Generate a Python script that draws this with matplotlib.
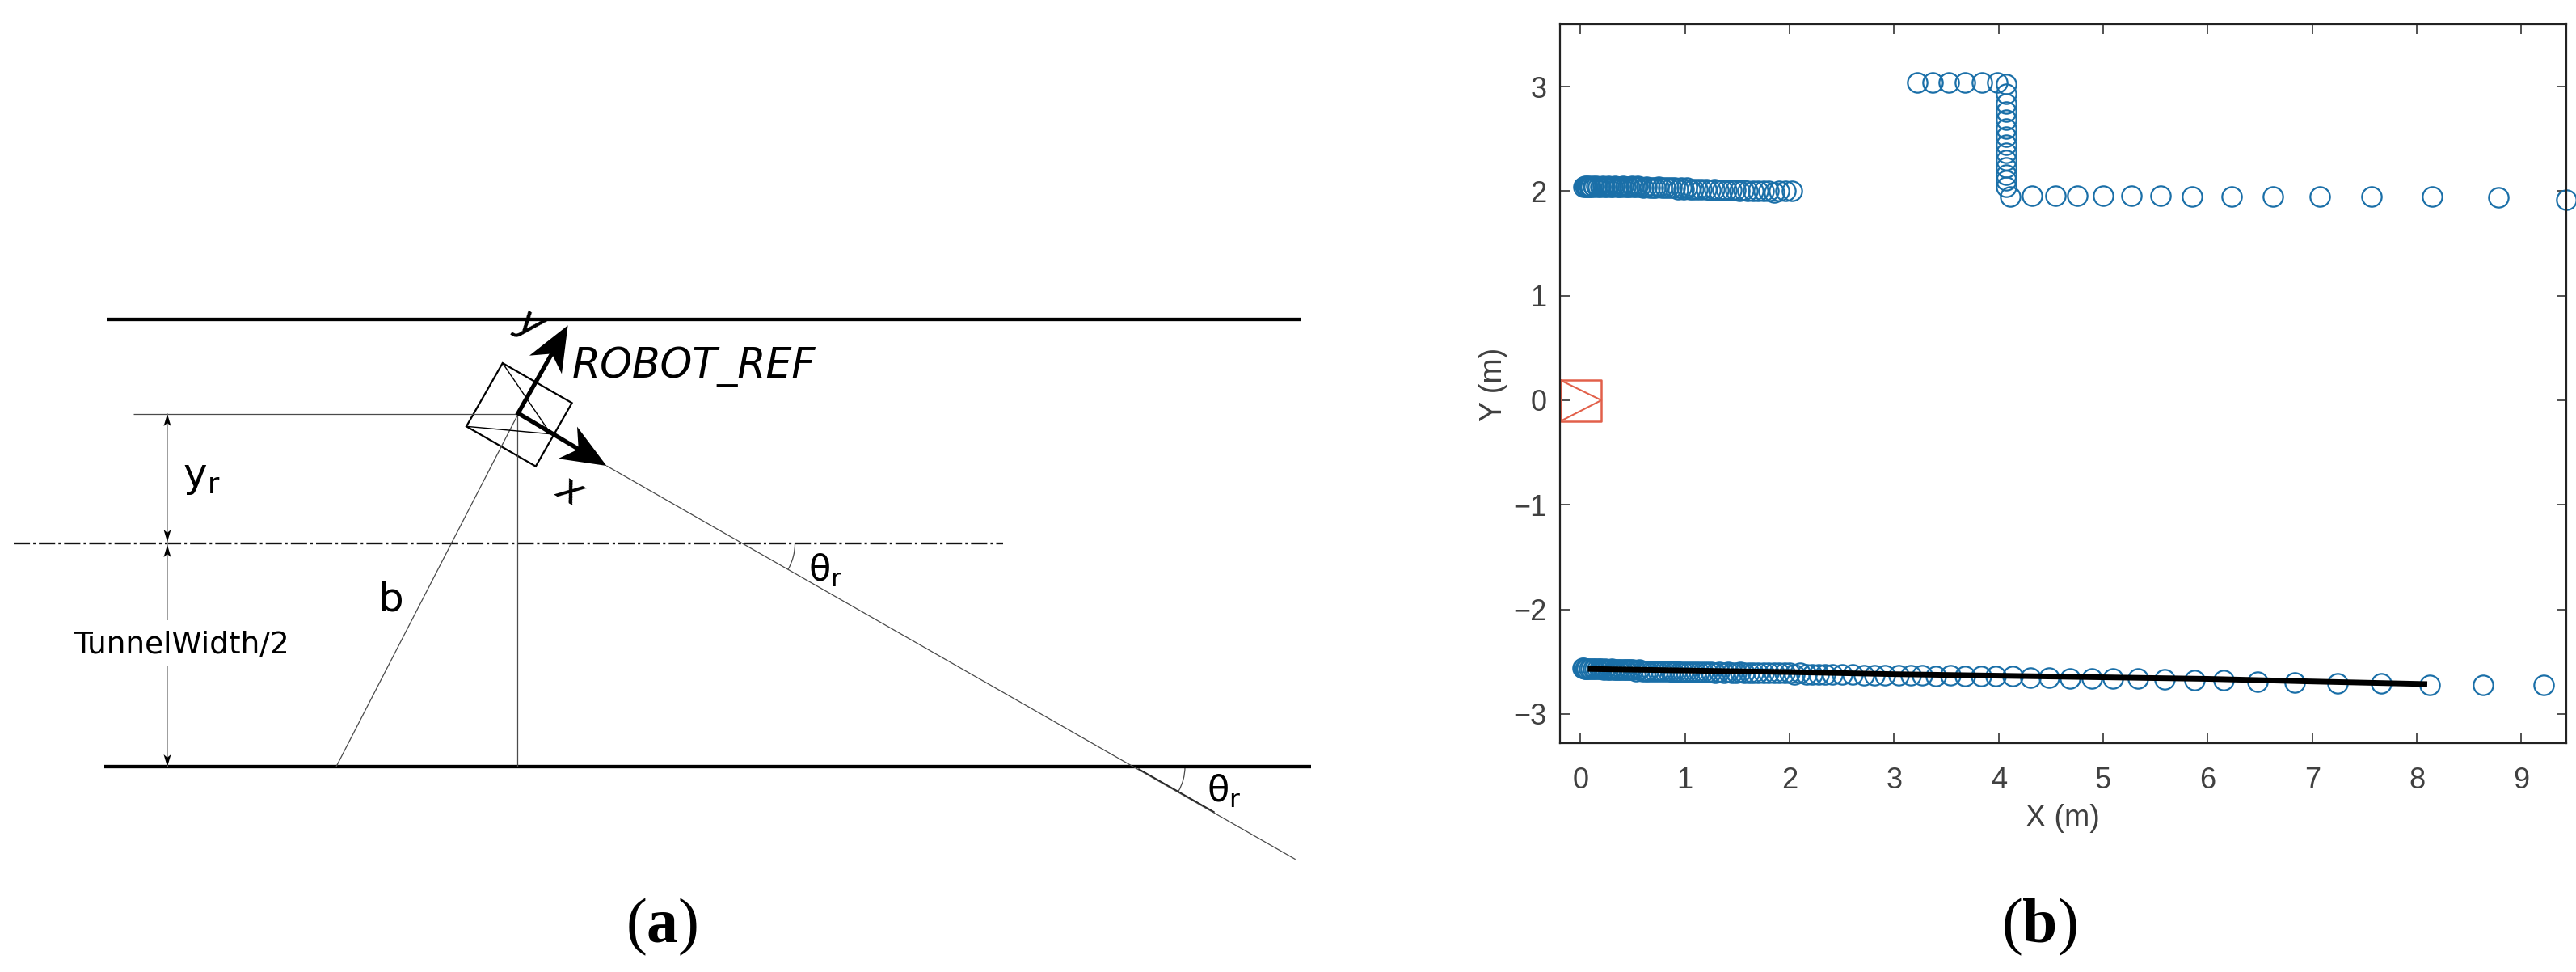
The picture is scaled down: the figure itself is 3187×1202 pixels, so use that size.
""" Tunnel geometry sketch (a) and laser scan with fitted wall (b) """

import numpy as np
import matplotlib
matplotlib.use("Agg")
import matplotlib.pyplot as plt
from matplotlib.patches import Arc, Polygon, Rectangle

W, H = 3187, 1202

plt.rcParams['font.family'] = ['DejaVu Sans']
plt.rcParams['mathtext.fontset'] = 'custom'
plt.rcParams['mathtext.rm'] = 'DejaVu Sans'
plt.rcParams['mathtext.bf'] = 'Liberation Serif:bold'

# panel (b): scan points, in metres
upper_left_x = [0.03, 0.04, 0.05, 0.06, 0.07, 0.08, 0.09, 0.10, 0.12, 0.13, 0.15, 0.17, 0.19, 0.21,
                0.23, 0.25, 0.27, 0.29, 0.31, 0.33, 0.35, 0.37, 0.39, 0.41, 0.43, 0.45, 0.47, 0.49,
                0.51, 0.53, 0.55, 0.57, 0.60, 0.63, 0.66, 0.69, 0.72, 0.75, 0.78, 0.81, 0.84, 0.87,
                0.90, 0.93, 0.96, 0.99, 1.02, 1.05, 1.08, 1.12, 1.16, 1.20, 1.24, 1.28, 1.32, 1.36,
                1.40, 1.44, 1.48, 1.52, 1.56, 1.60, 1.65, 1.70, 1.75, 1.80, 1.85, 1.90, 1.96, 2.02]
upper_left_y = [2.04, 2.05, 2.04, 2.05, 2.04, 2.05, 2.04, 2.04, 2.05, 2.04, 2.05, 2.04, 2.04, 2.05,
                2.04, 2.04, 2.05, 2.04, 2.04, 2.05, 2.04, 2.04, 2.04, 2.05, 2.04, 2.04, 2.04, 2.05,
                2.04, 2.04, 2.05, 2.04, 2.03, 2.04, 2.03, 2.03, 2.03, 2.04, 2.03, 2.03, 2.03, 2.03,
                2.03, 2.02, 2.03, 2.02, 2.03, 2.02, 2.02, 2.02, 2.02, 2.02, 2.01, 2.02, 2.01, 2.01,
                2.01, 2.01, 2.01, 2.00, 2.01, 2.00, 2.00, 2.00, 2.00, 2.00, 1.99, 2.00, 2.00, 2.00]

step_x = [3.22, 3.37, 3.52, 3.68, 3.84, 3.99, 4.07, 4.07, 4.07, 4.07, 4.07, 4.07, 4.07, 4.07, 4.07,
          4.07, 4.07, 4.07, 4.07, 4.07, 4.11, 4.32, 4.54, 4.75, 5.00, 5.27, 5.55, 5.85, 6.23, 6.62,
          7.07, 7.57, 8.15, 8.78, 9.43]
step_y = [3.04, 3.04, 3.04, 3.04, 3.04, 3.04, 3.02, 2.93, 2.84, 2.76, 2.68, 2.60, 2.52, 2.44, 2.37,
          2.30, 2.23, 2.16, 2.10, 2.04, 1.95, 1.96, 1.96, 1.96, 1.96, 1.96, 1.96, 1.95, 1.95, 1.95,
          1.95, 1.95, 1.95, 1.94, 1.92]

lower_x = [0.02, 0.03, 0.04, 0.05, 0.06, 0.08, 0.10, 0.12, 0.14, 0.16, 0.18, 0.20, 0.22, 0.24, 0.26,
           0.28, 0.30, 0.32, 0.34, 0.36, 0.38, 0.40, 0.42, 0.44, 0.46, 0.48, 0.50, 0.53, 0.56, 0.59,
           0.62, 0.65, 0.68, 0.71, 0.74, 0.77, 0.80, 0.83, 0.86, 0.89, 0.92, 0.95, 0.98, 1.01, 1.04,
           1.07, 1.10, 1.13, 1.17, 1.21, 1.25, 1.29, 1.33, 1.37, 1.41, 1.45, 1.49, 1.53, 1.57, 1.61,
           1.65, 1.70, 1.75, 1.80, 1.85, 1.90, 1.95, 2.00, 2.05, 2.10, 2.16, 2.22, 2.28, 2.34, 2.41,
           2.50, 2.60, 2.71, 2.81, 2.91, 3.04, 3.16, 3.27, 3.40, 3.54, 3.68, 3.83, 3.97, 4.13, 4.30,
           4.48, 4.68, 4.89, 5.09, 5.33, 5.59, 5.87, 6.15, 6.48, 6.83, 7.24, 7.66, 8.12, 8.63, 9.21]
lower_y = [-2.56, -2.56, -2.57, -2.57, -2.57, -2.57, -2.57, -2.57, -2.57, -2.57, -2.57, -2.57, -2.58, -2.57, -2.58,
           -2.58, -2.57, -2.58, -2.58, -2.58, -2.58, -2.58, -2.58, -2.58, -2.58, -2.58, -2.58, -2.59, -2.58, -2.59,
           -2.59, -2.59, -2.59, -2.59, -2.59, -2.59, -2.59, -2.59, -2.59, -2.60, -2.59, -2.60, -2.60, -2.60, -2.60,
           -2.60, -2.60, -2.60, -2.60, -2.60, -2.60, -2.61, -2.60, -2.61, -2.60, -2.61, -2.61, -2.60, -2.61, -2.61,
           -2.61, -2.61, -2.61, -2.61, -2.61, -2.61, -2.61, -2.61, -2.62, -2.61, -2.62, -2.62, -2.62, -2.62, -2.62,
           -2.62, -2.62, -2.63, -2.63, -2.63, -2.63, -2.63, -2.63, -2.64, -2.63, -2.64, -2.64, -2.64, -2.64, -2.65,
           -2.65, -2.66, -2.66, -2.66, -2.66, -2.67, -2.68, -2.68, -2.69, -2.70, -2.71, -2.71, -2.72, -2.72, -2.72]

wall_x = [0.07, 1.0, 2.0, 3.0, 4.0, 5.0, 6.0, 7.0, 8.1]
wall_y = [-2.57, -2.585, -2.60, -2.62, -2.635, -2.65, -2.665, -2.69, -2.715]

robot_box_x = [-0.19, 0.20, 0.20, -0.19, -0.19]
robot_box_y = [0.19, 0.19, -0.20, -0.20, 0.19]
robot_nose_x = [-0.19, 0.20, -0.19]
robot_nose_y = [0.19, 0.0, -0.20]

x_ticks = [0, 1, 2, 3, 4, 5, 6, 7, 8, 9]
y_ticks = [-3, -2, -1, 0, 1, 2, 3]

# panel (a): sketch points, in image pixels
robot_corners = [(621.8, 449), (707.6, 498.3), (662.8, 576.7), (577, 527.3)]
robot_v = [(621.8, 449), (681.5, 536.7), (577, 527.3)]
robot_origin = (641, 511)
y_tip = (702.6, 402.3)
x_tip = (750.4, 576)
b_foot = (416, 948)
ray_end = (1602.7, 1062.7)
mid_cross = (918.5, 672)
wall_cross = (1404, 948)


def stealth(ax, tip, start, length, half, notch=0.72, color='k'):
    """ filled arrow head at tip, pointing away from start """
    tip = np.array(tip, float)
    d = tip - np.array(start, float)
    d /= np.hypot(*d)
    n = np.array([-d[1], d[0]])
    pts = [tip, tip - length*d + half*n, tip - notch*length*d, tip - length*d - half*n]
    ax.add_patch(Polygon(pts, closed=True, fc=color, ec='none', zorder=5))


fig = plt.figure(figsize=(W/100, H/100), dpi=100)

# ---- panel (a) ----
ax = fig.add_axes([0, 0, 1650/W, 1])
ax.set_xlim(0, 1650)
ax.set_ylim(H, 0)
ax.axis('off')

thin = dict(color='#4a4a4a', lw=0.9, solid_capstyle='butt')
ax.plot([132, 1610], [395, 395], color='k', lw=3.1, solid_capstyle='butt')
ax.plot([129, 1622], [948, 948], color='k', lw=3.1, solid_capstyle='butt')
ax.plot([17, 1241], [672, 672], color='#111111', lw=1.7, linestyle=(0, (8.5, 1.7, 1.3, 1.7)))

ax.plot([165, robot_origin[0]], [512, 512], **thin)
ax.plot([640, 640], [512, 948], **thin)
ax.plot([b_foot[0], robot_origin[0]], [b_foot[1], 512], **thin)
ax.plot([x_tip[0], ray_end[0]], [x_tip[1], ray_end[1]], **thin)
ax.plot([wall_cross[0]+5, wall_cross[0]+98], [wall_cross[1]+3, wall_cross[1]+56], color='#222222', lw=1.1)

# dimension arrows
ax.plot([207, 207], [512, 948], color='#8c8c8c', lw=1.2)
for tip, start in [((207, 512), (207, 600)), ((207, 670), (207, 600)),
                   ((207, 674), (207, 800)), ((207, 948), (207, 800))]:
    stealth(ax, tip, start, 15, 4.5, notch=0.75)
ax.add_patch(Rectangle((190, 767), 33, 56, fc='white', ec='none', zorder=3))

# angle arcs
for cx, cy, r in [(mid_cross[0], mid_cross[1], 65), (wall_cross[0], wall_cross[1], 62)]:
    ax.add_patch(Arc((cx, cy), 2*r, 2*r, theta1=0, theta2=29.7, color='#4a4a4a', lw=0.9))

# robot
ax.add_patch(Polygon(robot_corners, closed=True, fill=False, ec='k', lw=1.6, joinstyle='miter'))
ax.plot([p[0] for p in robot_v], [p[1] for p in robot_v], color='k', lw=1.0)
ax.plot([y_tip[0] - 0.3*(y_tip[0]-robot_origin[0]), robot_origin[0], x_tip[0] - 0.3*(x_tip[0]-robot_origin[0])],
        [y_tip[1] - 0.3*(y_tip[1]-robot_origin[1]), robot_origin[1], x_tip[1] - 0.3*(x_tip[1]-robot_origin[1])],
        color='k', lw=3.8, solid_joinstyle='miter')
stealth(ax, y_tip, robot_origin, 56, 23)
stealth(ax, x_tip, robot_origin, 56, 23)

ax.text(708, 467, 'ROBOT_REF', fontsize=36.4, style='oblique', va='baseline', ha='left')
ax.text(656, 400, 'y', fontsize=36, style='oblique', rotation=-30, va='center', ha='center',
        rotation_mode='anchor')
ax.text(705, 606, 'x', fontsize=36, style='oblique', rotation=-30, va='center', ha='center',
        rotation_mode='anchor')
ax.text(226, 602, r'y$_{\mathrm{r}}$', fontsize=36, va='baseline', ha='left')
ax.text(468, 755, 'b', fontsize=36, va='baseline', ha='left')
ax.text(91, 808, 'TunnelWidth/2', fontsize=27, va='baseline', ha='left', zorder=6)
ax.text(1000, 719, r'θ$_{\mathrm{r}}$', fontsize=32, va='baseline', ha='left')
ax.text(1493, 992, r'θ$_{\mathrm{r}}$', fontsize=32, va='baseline', ha='left')

# ---- panel (b) ----
left, right, top, bottom = 1930, 3175, 29.5, 919
ax2 = fig.add_axes([left/W, 1 - bottom/H, (right-left)/W, (bottom-top)/H])
ax2.set_xlim(-0.196, 9.43)
ax2.set_ylim(-3.28, 3.6)

blue = '#1a6fa8'
for xs, ys in [(upper_left_x, upper_left_y), (step_x, step_y), (lower_x, lower_y)]:
    ax2.plot(xs, ys, linestyle='none', marker='o', ms=17.5, mfc='none', mec=blue, mew=1.6, clip_on=False)
ax2.plot(wall_x, wall_y, color='k', lw=5, solid_capstyle='butt')

red = '#e2604a'
ax2.plot(robot_box_x, robot_box_y, color=red, lw=1.8, clip_on=False)
ax2.plot(robot_nose_x, robot_nose_y, color=red, lw=1.5, clip_on=False)

ax2.set_xticks(x_ticks)
ax2.set_yticks(y_ticks)
ax2.tick_params(direction='in', top=True, right=True, length=8.5, width=1.1, color='#222222',
                labelsize=26, labelcolor='#404040')
ax2.tick_params(axis='x', pad=21)
ax2.tick_params(axis='y', pad=12)
for lab in ax2.get_xticklabels() + ax2.get_yticklabels():
    lab.set_family('Liberation Sans')
for s in ax2.spines.values():
    s.set_linewidth(1.6)
    s.set_color('#222222')

fig.text(2552/W, 1 - 1012/H, 'X (m)', fontsize=27, family='Liberation Sans', color='#404040',
         ha='center', va='center')
fig.text(1848/W, 1 - 475/H, 'Y (m)', fontsize=27, family='Liberation Sans', color='#404040',
         ha='center', va='center', rotation=90)

# captions
fig.text(819/W, 1 - 1165/H, r'($\mathbf{a}$)', fontsize=56, family='Liberation Serif', ha='center', va='baseline')
fig.text(2523/W, 1 - 1165/H, r'($\mathbf{b}$)', fontsize=56, family='Liberation Serif', ha='center', va='baseline')

fig.savefig('out.png', dpi=100, facecolor='white')
